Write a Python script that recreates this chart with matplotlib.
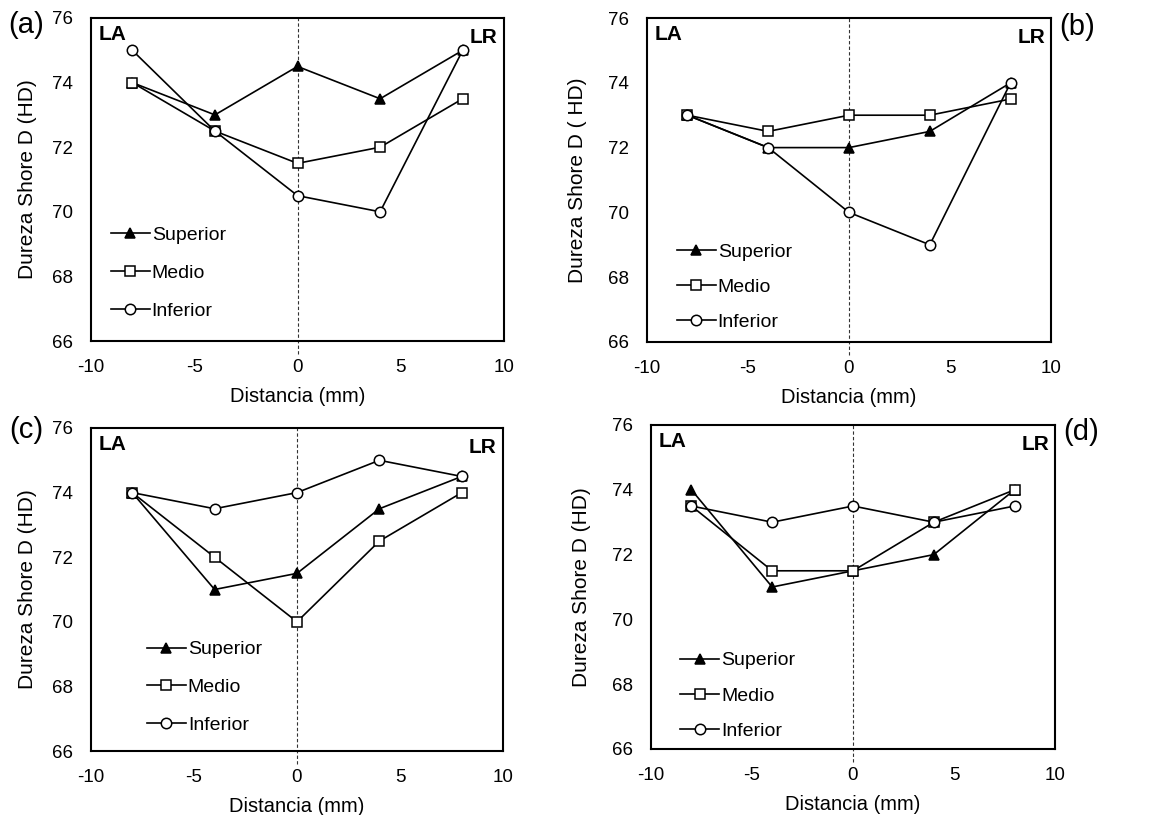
import matplotlib
matplotlib.use("Agg")
import matplotlib.pyplot as plt
from matplotlib.transforms import blended_transform_factory

plt.rcParams["font.family"] = ["Liberation Sans", "DejaVu Sans"]
plt.rcParams["axes.unicode_minus"] = False

distancia = [-8, -4, 0, 4, 8]
series_names = ["Superior", "Medio", "Inferior"]

a_superior = [74, 73, 74.5, 73.5, 75]
a_medio = [74, 72.5, 71.5, 72, 73.5]
a_inferior = [75, 72.5, 70.5, 70, 75]

b_superior = [73, 72, 72, 72.5, 74]
b_medio = [73, 72.5, 73, 73, 73.5]
b_inferior = [73, 72, 70, 69, 74]

c_superior = [74, 71, 71.5, 73.5, 74.5]
c_medio = [74, 72, 70, 72.5, 74]
c_inferior = [74, 73.5, 74, 75, 74.5]

d_superior = [74, 71, 71.5, 72, 74]
d_medio = [73.5, 71.5, 71.5, 73, 74]
d_inferior = [73.5, 73, 73.5, 73, 73.5]

panel_tags = ["(a)", "(b)", "(c)", "(d)"]
ylabels = ["Dureza Shore D (HD)", "Dureza Shore D ( HD)",
           "Dureza Shore D (HD)", "Dureza Shore D (HD)"]
x_ticks = [-10, -5, 0, 5, 10]
y_ticks = [66, 68, 70, 72, 74, 76]

panels = [
    (a_superior, a_medio, a_inferior),
    (b_superior, b_medio, b_inferior),
    (c_superior, c_medio, c_inferior),
    (d_superior, d_medio, d_inferior),
]

# axes rectangles in figure pixels: left, top, right, bottom
W, H = 1162, 815
boxes = [(91, 18, 504, 341), (647, 18, 1051, 342),
         (91, 428, 503, 751), (651, 425, 1055, 749)]
legend_pos = [(0.048, 0.356), (0.074, 0.305), (0.136, 0.341), (0.072, 0.30)]
legend_gap = [1.05, 0.9, 1.03, 0.9]
ylab_pad = [11, 15, 11, 15]
tag_pos = [(-0.115, 0.978, "right"), (1.02, 0.972, "left"),
           (-0.115, 0.993, "right"), (1.02, 0.978, "left")]

styles = [dict(marker="^", markerfacecolor="black"),
          dict(marker="s", markerfacecolor="white"),
          dict(marker="o", markerfacecolor="white")]

fig = plt.figure(figsize=(W / 100, H / 100), dpi=100)

for i, (data, box) in enumerate(zip(panels, boxes)):
    l, t, r, b = box
    ax = fig.add_axes([l / W, 1 - b / H, (r - l) / W, (b - t) / H])
    for name, vals, st in zip(series_names, data, styles):
        ax.plot(distancia, vals, color="black", lw=1.2, markersize=7.5,
                markeredgecolor="black", markeredgewidth=1.1, label=name,
                clip_on=False, zorder=3, **st)
    trans = blended_transform_factory(ax.transData, ax.transAxes)
    ax.plot([0, 0], [-0.04, 1], transform=trans, color="#333333", lw=0.8,
            ls=(0, (3, 2)), clip_on=False, zorder=1)
    ax.set_xlim(-10, 10)
    ax.set_ylim(66, 76)
    ax.set_xticks(x_ticks)
    ax.set_yticks(y_ticks)
    ax.tick_params(length=0, labelsize=13.5)
    ax.tick_params(axis="x", pad=13)
    ax.tick_params(axis="y", pad=13)
    for s in ax.spines.values():
        s.set_linewidth(1.5)
    ax.set_xlabel("Distancia (mm)", fontsize=14.5, labelpad=8)
    ax.set_ylabel(ylabels[i], fontsize=15, labelpad=ylab_pad[i])
    ax.text(0.018, 0.978, "LA", transform=ax.transAxes, fontsize=15,
            fontweight="bold", ha="left", va="top")
    ax.text(0.985, 0.968, "LR", transform=ax.transAxes, fontsize=15,
            fontweight="bold", ha="right", va="top")
    tx, ty, ha = tag_pos[i]
    ax.text(tx, ty, panel_tags[i], transform=ax.transAxes,
            fontsize=21, ha=ha, va="center")
    ax.legend(loc="upper left", bbox_to_anchor=legend_pos[i], frameon=False,
              fontsize=14, handlelength=2.0, handletextpad=0.1,
              labelspacing=legend_gap[i], borderaxespad=0, borderpad=0)

fig.savefig("out.png", dpi=100)
